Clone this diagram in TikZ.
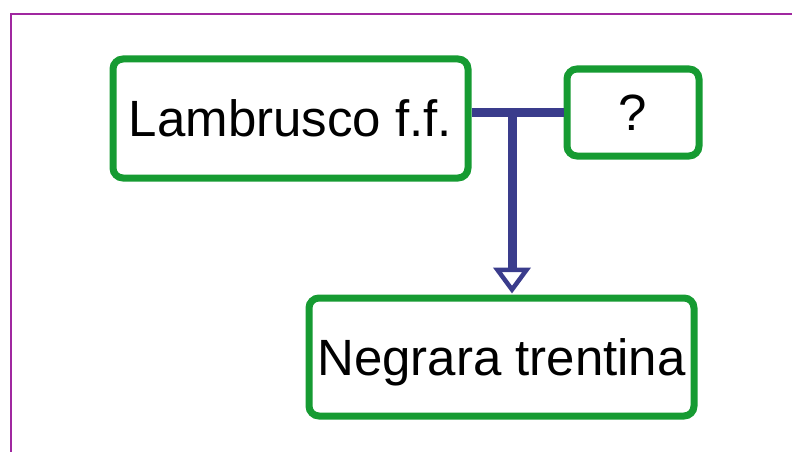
\documentclass[tikz,border=0pt]{standalone}
\usepackage{fontspec}
\setmainfont{Liberation Sans}
\usetikzlibrary{arrows.meta}
\definecolor{boxgreen}{RGB}{22,155,50}
\definecolor{connblue}{RGB}{58,60,140}
\definecolor{framepurple}{RGB}{160,40,160}
\begin{document}
\begin{tikzpicture}[x=1pt,y=-1pt,
  wbox/.style={draw=boxgreen, line width=7pt, rounded corners=10pt, fill=white,
    inner sep=0pt, text height=36.5pt, text depth=0pt,
    font=\fontsize{51}{60}\selectfont},
  conn/.style={draw=connblue, line width=9pt},
  tip/.style={-{Triangle[open, length=26pt, width=37pt, line width=4.5pt]}}]
\useasboundingbox (0,0) rectangle (792,452);
\draw[framepurple, line width=1.3pt] (792,14) -- (11,14) -- (11,452);
\node[wbox, minimum width=355pt, minimum height=119pt] (L) at (290.5,118.5) {Lambrusco f.f.};
\node[wbox, minimum width=132pt, minimum height=87pt] (Q) at (633,112.5) {?};
\node[wbox, minimum width=385pt, minimum height=118pt] (N) at (501.5,357) {Negrara trentina};
\coordinate (J) at (512,112.5);
\draw[conn] (L.east |- Q.west) -- (Q.west);
\draw[conn, tip, shorten >=1pt] (J) -- (J |- N.north);
\end{tikzpicture}
\end{document}
